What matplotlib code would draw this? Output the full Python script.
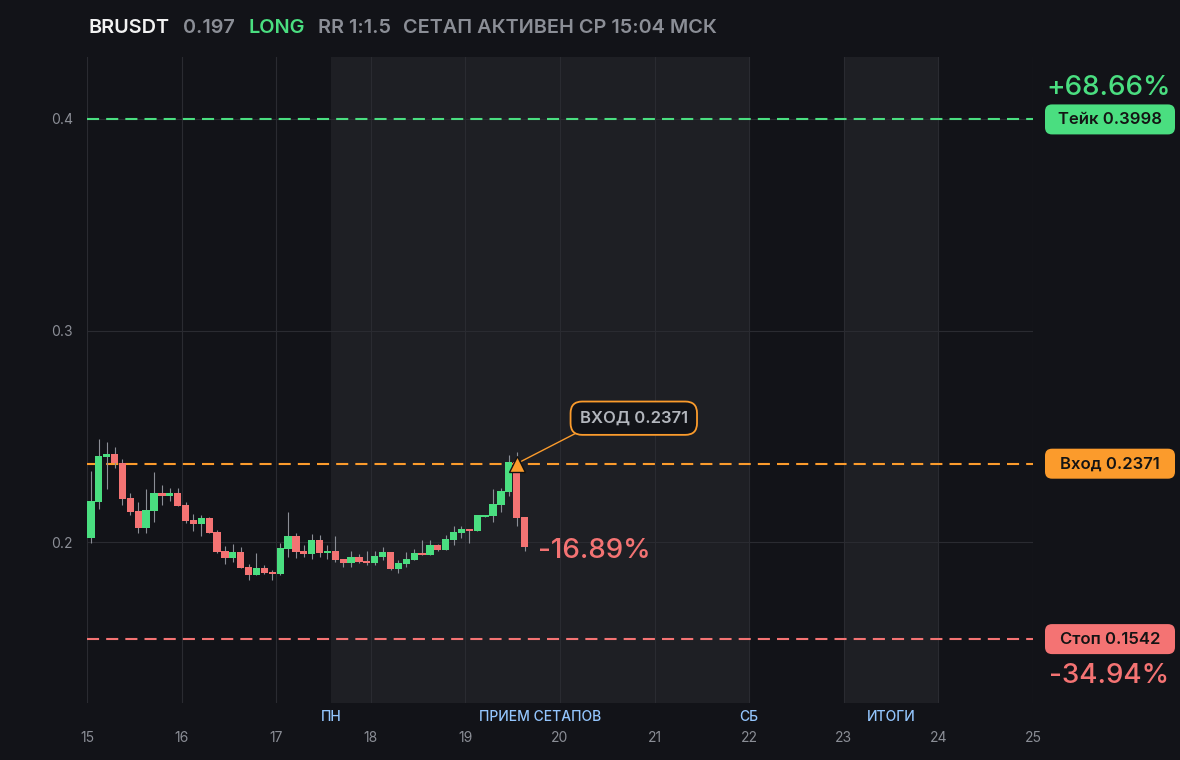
import numpy as np
import matplotlib.pyplot as plt
from matplotlib.patches import FancyBboxPatch

plt.rcParams['font.family'] = ['Inter', 'DejaVu Sans']

# --- data -------------------------------------------------------------
symbol = 'BRUSDT'
last_price = '0.197'
side = 'LONG'
rr_text = 'RR 1:1.5'
status_text = 'СЕТАП АКТИВЕН СР 15:04 МСК'

start_day = 15          # first candle opens at day 15, 00:00
candle_hours = 2

opens = [0.2020, 0.2191, 0.2403, 0.2416, 0.2372, 0.2208, 0.2147, 0.2068, 0.2148, 0.2232,
         0.2219, 0.2232, 0.2175, 0.2104, 0.2087, 0.2113, 0.2047, 0.1957, 0.1926, 0.1953,
         0.1882, 0.1845, 0.1877, 0.1858, 0.1850, 0.1968, 0.2028, 0.1957, 0.1945, 0.2009,
         0.1948, 0.1957, 0.1921, 0.1901, 0.1929, 0.1910, 0.1901, 0.1929, 0.1953, 0.1872,
         0.1896, 0.1915, 0.1948, 0.1939, 0.1986, 0.1962, 0.2009, 0.2043, 0.2061, 0.2052,
         0.2120, 0.2123, 0.2175, 0.2236, 0.2378, 0.2118]
highs = [0.2336, 0.2487, 0.2473, 0.2449, 0.2392, 0.2232, 0.2189, 0.2251, 0.2331, 0.2270,
         0.2255, 0.2255, 0.2189, 0.2132, 0.2128, 0.2118, 0.2057, 0.1981, 0.1991, 0.1976,
         0.1896, 0.1948, 0.1891, 0.1868, 0.1995, 0.2142, 0.2043, 0.1986, 0.2038, 0.2033,
         0.1986, 0.2028, 0.1921, 0.1957, 0.1943, 0.1957, 0.1957, 0.1976, 0.1955, 0.1915,
         0.1953, 0.1967, 0.2009, 0.2009, 0.1990, 0.2033, 0.2076, 0.2076, 0.2061, 0.2128,
         0.2128, 0.2251, 0.2255, 0.2411, 0.2426, 0.2118]
lows = [0.1997, 0.2156, 0.2251, 0.2351, 0.2175, 0.2128, 0.2044, 0.2044, 0.2096, 0.2176,
        0.2194, 0.2172, 0.2090, 0.2053, 0.2030, 0.2044, 0.1948, 0.1896, 0.1905, 0.1879,
        0.1822, 0.1845, 0.1850, 0.1822, 0.1845, 0.1931, 0.1926, 0.1931, 0.1921, 0.1931,
        0.1921, 0.1907, 0.1883, 0.1883, 0.1901, 0.1891, 0.1891, 0.1915, 0.1870, 0.1853,
        0.1882, 0.1915, 0.1939, 0.1939, 0.1960, 0.1962, 0.1986, 0.2019, 0.1995, 0.2052,
        0.2118, 0.2095, 0.2142, 0.2217, 0.2076, 0.1957]
closes = [0.2194, 0.2407, 0.2416, 0.2372, 0.2203, 0.2142, 0.2068, 0.2151, 0.2232, 0.2219,
          0.2232, 0.2172, 0.2101, 0.2087, 0.2113, 0.2044, 0.1954, 0.1926, 0.1953, 0.1879,
          0.1845, 0.1877, 0.1855, 0.1850, 0.1972, 0.2028, 0.1954, 0.1945, 0.2009, 0.1949,
          0.1957, 0.1916, 0.1902, 0.1929, 0.1905, 0.1901, 0.1934, 0.1953, 0.1872, 0.1901,
          0.1920, 0.1948, 0.1939, 0.1986, 0.1962, 0.2014, 0.2047, 0.2061, 0.2052, 0.2128,
          0.2128, 0.2180, 0.2241, 0.2378, 0.2113, 0.1976]

entry_price = 0.2371
take_price = 0.3998
stop_price = 0.1542
entry_candle = 54
take_pct = '+68.66%'
stop_pct = '-34.94%'
now_pct = '-16.89%'

day_ticks = list(range(15, 26))
band_spans = [(17.58, 22.0), (23.0, 24.0)]
band_labels = ['ПН', 'ПРИЕМ СЕТАПОВ', 'СБ', 'ИТОГИ']
band_label_x = [17.58, 19.79, 22.0, 23.5]

# --- colours ----------------------------------------------------------
BG = '#121318'
BAND = '#1e1f24'
GRID = '#2a2b31'
GREEN = '#4ade80'
RED = '#f47373'
ORANGE = '#fb9b2c'
GRAY = '#8b8e96'
BLUE = '#93c5fd'

step = candle_hours / 24
xs = start_day + (np.arange(len(opens)) + 0.5) * step
o = np.array(opens); h = np.array(highs); l = np.array(lows); c = np.array(closes)
up = c >= o

fig = plt.figure(figsize=(11.8, 7.6), dpi=100, facecolor=BG)
ax = fig.add_axes([87 / 1180, 57 / 760, 946 / 1180, 646 / 760])
ax.set_facecolor(BG)
ax.set_xlim(15, 25)
ax.set_ylim(0.124, 0.4293)

for x0, x1 in band_spans:
    ax.axvspan(x0, x1, color=BAND, zorder=0, lw=0)

ax.set_axisbelow(True)
ax.grid(color=GRID, lw=0.8)
for s in ax.spines.values():
    s.set_visible(False)

ax.set_xticks(day_ticks)
ax.set_xticklabels([str(d) for d in day_ticks])
ax.set_yticks([0.2, 0.3, 0.4])
ax.set_yticklabels(['0.2', '0.3', '0.4'])
ax.tick_params(axis='x', length=0, pad=20, colors=GRAY, labelsize=10)
ax.tick_params(axis='y', length=0, pad=10, colors=GRAY, labelsize=10)

for lab, lx in zip(band_labels, band_label_x):
    ax.text(lx, -0.0217, lab, transform=ax.get_xaxis_transform(), ha='center',
            va='center', color=BLUE, fontsize=10, fontweight='medium')

# level lines
for lvl, col in [(take_price, GREEN), (entry_price, ORANGE), (stop_price, RED)]:
    ax.axhline(lvl, color=col, lw=1.5, dashes=(5.8, 3.4), zorder=2)

# candles
ax.vlines(xs, l, h, color=GRAY, lw=0.8, zorder=3)
body_h = np.maximum(np.abs(c - o), 0.0006)
ax.bar(xs, body_h, bottom=np.minimum(o, c), width=step * 0.92,
       color=np.where(up, GREEN, RED), zorder=4, lw=0)

# entry marker + callout
ex = xs[entry_candle]
ax.plot([ex], [entry_price], marker='^', ms=11, color=ORANGE, mec='#111111',
        mew=1, zorder=6)
ax.annotate(f'ВХОД {entry_price}', xy=(ex, entry_price), xytext=(20.78, 0.2586),
            ha='center', va='center', color='#b3b6bd', fontsize=12,
            fontweight='semibold', zorder=7,
            bbox=dict(boxstyle='round,pad=0.55,rounding_size=0.7', fc=BG, ec=ORANGE, lw=1.3),
            arrowprops=dict(arrowstyle='-', color=ORANGE, lw=1, relpos=(0.1, 0.0),
                            shrinkA=0, shrinkB=4))

ax.annotate(now_pct, xy=(xs[-1], c[-1]), xytext=(10, -2.5), textcoords='offset points',
            ha='left', va='center', color=RED, fontsize=20, fontweight='medium')

# --- overlay in figure pixels: title and right-side badges -------------
ov = fig.add_axes([0, 0, 1, 1], facecolor='none')
ov.set_xlim(0, 1180)
ov.set_ylim(0, 760)
ov.axis('off')

title_parts = [(symbol, '#f2f2f2', 88), (last_price, GRAY, 183), (side, GREEN, 248),
               (rr_text, GRAY, 318), (status_text, GRAY, 403)]
for txt, col, px in title_parts:
    ov.text(px, 760 - 28, txt, color=col, fontsize=14.3, fontweight='semibold',
            ha='left', va='center')


def ypix(v):
    return ax.transData.transform((15, v))[1]


for lvl, col, lab in [(take_price, GREEN, f'Тейк {take_price}'),
                      (entry_price, ORANGE, f'Вход {entry_price}'),
                      (stop_price, RED, f'Стоп {stop_price}')]:
    yc = ypix(lvl)
    ov.add_patch(FancyBboxPatch((1045, yc - 15), 130, 30,
                                boxstyle='round,pad=0,rounding_size=7',
                                fc=col, ec='none'))
    ov.text(1110, yc, lab, ha='center', va='center', color='#141414',
            fontsize=12, fontweight='semibold')

ov.text(1109, ypix(take_price) + 31, take_pct, ha='center', va='center',
        color=GREEN, fontsize=20, fontweight='medium')
ov.text(1109, ypix(stop_price) - 37, stop_pct, ha='center', va='center',
        color=RED, fontsize=20, fontweight='medium')

fig.savefig('out.png', dpi=100, facecolor=BG)
